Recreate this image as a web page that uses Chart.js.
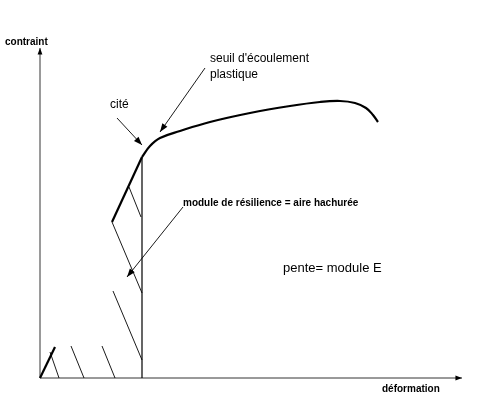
<!DOCTYPE html><html><head><meta charset="utf-8"><script src="https://cdn.jsdelivr.net/npm/chart.js@4"></script>
<style>html,body{margin:0;padding:0;background:#fff}#w{width:481px;height:401px}</style></head><body><div id="w"><canvas id="c"></canvas></div>
<script>
// values in strain/stress units (origin at axis crossing)
const elasticStart=[{x:0,y:0},{x:15,y:31}];
const elasticMain=[{x:72,y:156},{x:102,y:221}];
const plastic=[{x:102,y:221},{x:110,y:232},{x:120,y:240},{x:140,y:247},{x:170,y:256},{x:210,y:265},{x:250,y:272},{x:280,y:276},{x:300,y:277},{x:315,y:275},{x:326,y:270},{x:333,y:263},{x:338,y:256}];
const hatches=[[{x:10,y:26},{x:19,y:0}],[{x:31,y:32},{x:44,y:0}],[{x:62,y:32},{x:75,y:0}],[{x:73,y:87},{x:102,y:18}],[{x:72,y:156},{x:102,y:85}],[{x:89,y:191},{x:101,y:161}]];
const yieldLine=[{x:102,y:221},{x:102,y:0}];
const arrows=[[{x:143,y:171},{x:87,y:101}],[{x:77,y:260},{x:102,y:233}],[{x:165,y:310},{x:120,y:246}]];
const labels=[{t:'contraint',x:-35,y:333,f:'bold 10px Arial'},{t:'déformation',x:342,y:-14,f:'bold 10px Arial'},{t:'cité',x:70,y:270,f:'12px Arial'},{t:'seuil d\'écoulement',x:170,y:316,f:'12px Arial'},{t:'plastique',x:170,y:300,f:'12px Arial'},{t:'module de résilience = aire hachurée',x:143,y:172,f:'bold 10px Arial'},{t:'pente= module E',x:243,y:106,f:'13px Arial'}];
const ds=[];
const L=(d,w)=>({data:d,borderColor:'#000',borderWidth:w,pointRadius:0,showLine:true,fill:false,tension:0});
ds.push(L(elasticStart,2.2));ds.push(L(elasticMain,2.2));
ds.push(Object.assign(L(plastic,2.2),{tension:0.4}));
hatches.forEach(h=>ds.push(L(h,0.9)));
ds.push(L(yieldLine,1.2));
const deco={id:'deco',afterDraw(ch){const c=ch.ctx,xs=ch.scales.x,ys=ch.scales.y;const P=p=>[xs.getPixelForValue(p.x),ys.getPixelForValue(p.y)];
c.save();c.strokeStyle='#000';c.fillStyle='#000';
function arrow(a,b,w,hl){const[x1,y1]=P(a),[x2,y2]=P(b);c.lineWidth=w;c.beginPath();c.moveTo(x1,y1);c.lineTo(x2,y2);c.stroke();const an=Math.atan2(y2-y1,x2-x1);c.beginPath();c.moveTo(x2,y2);c.lineTo(x2-hl*Math.cos(an-0.35),y2-hl*Math.sin(an-0.35));c.lineTo(x2-hl*Math.cos(an+0.35),y2-hl*Math.sin(an+0.35));c.closePath();c.fill();}
arrow({x:0,y:0},{x:0,y:330},0.8,7);arrow({x:0,y:0},{x:422,y:0},0.8,7);
arrows.forEach(a=>arrow(a[0],a[1],0.9,9));
c.textBaseline='alphabetic';labels.forEach(l=>{c.font=l.f;const[x,y]=P(l);c.fillText(l.t,x,y);});c.restore();}};
new Chart(document.getElementById('c'),{type:'scatter',data:{datasets:ds},plugins:[deco],options:{responsive:true,maintainAspectRatio:false,animation:false,layout:{padding:0},plugins:{legend:{display:false},tooltip:{enabled:false}},scales:{x:{type:'linear',min:-40,max:441,display:false},y:{type:'linear',min:-23,max:378,display:false}}}});
</script></body></html>
